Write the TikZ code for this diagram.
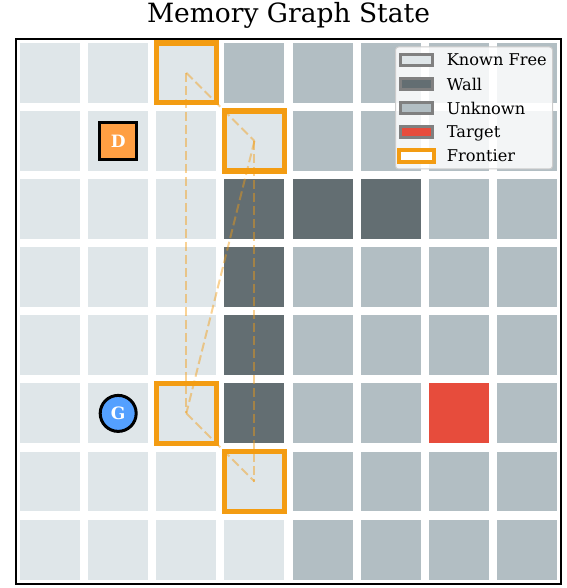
\documentclass[tikz,border=0pt]{standalone}
\usepackage{fontspec}
\setmainfont{DejaVu Serif}
\usetikzlibrary{positioning}
\definecolor{Free}{HTML}{DFE6E9}
\definecolor{Unknown}{HTML}{B2BEC3}
\definecolor{Wall}{HTML}{636E72}
\definecolor{Target}{HTML}{E74C3C}
\definecolor{Frontier}{HTML}{F39C12}
\definecolor{Drone}{HTML}{FF9F43}
\definecolor{Goal}{HTML}{54A0FF}
\definecolor{Edge}{HTML}{808080}
\begin{document}
\begin{tikzpicture}[x=68.125pt,y=-68.125pt,
    cell/.style={minimum size=59.9pt,inner sep=0pt,outer sep=0pt},
    frontier/.style={draw=Frontier,line width=5.5pt},
    link/.style={Frontier,opacity=0.45,line width=2pt,dash pattern=on 9pt off 4pt},
    marker/.style={draw=black,line width=3pt,text=white,inner sep=0pt,
      font=\fontsize{17}{17}\selectfont\bfseries},
    swatch/.style={draw=Edge,line width=2.7pt,minimum width=32.3pt,
      minimum height=10.6pt,inner sep=0pt},
    legendtext/.style={font=\fontsize{16.2}{18}\selectfont,inner sep=0pt,
      text depth=0pt,anchor=west}
  ]
    \useasboundingbox (-0.2349,-0.5681) rectangle (8.0734,8.0631);
    \node[anchor=base,font=\fontsize{26.5}{30}\selectfont] (title) at (4,-0.238)
      {Memory Graph State};
    \foreach \row/\cells in {
        0/{Free,Free,Free,Unknown,Unknown,Unknown,Unknown,Unknown},
        1/{Free,Free,Free,Free,Unknown,Unknown,Unknown,Unknown},
        2/{Free,Free,Free,Wall,Wall,Wall,Unknown,Unknown},
        3/{Free,Free,Free,Wall,Unknown,Unknown,Unknown,Unknown},
        4/{Free,Free,Free,Wall,Unknown,Unknown,Unknown,Unknown},
        5/{Free,Free,Free,Wall,Unknown,Unknown,Target,Unknown},
        6/{Free,Free,Free,Free,Unknown,Unknown,Unknown,Unknown},
        7/{Free,Free,Free,Free,Unknown,Unknown,Unknown,Unknown}}
      \foreach \kind [count=\col from 0] in \cells
        \node[cell,fill=\kind] (cell-\row-\col) at (\col+0.5,\row+0.5) {};
    \draw[line width=2pt] (0,0) rectangle (8,8);
    \draw[link] (cell-0-2.center) -- (cell-1-3.center);
    \draw[link] (cell-0-2.center) -- (cell-5-2.center);
    \draw[link] (cell-1-3.center) -- (cell-5-2.center);
    \draw[link] (cell-1-3.center) -- (cell-6-3.center);
    \draw[link] (cell-5-2.center) -- (cell-6-3.center);
    \foreach \f in {0-2,1-3,5-2,6-3}
      \draw[frontier] (cell-\f.north west) rectangle (cell-\f.south east);
    \node[marker,fill=Drone,minimum size=37pt] (drone) at (cell-1-1) {D};
    \node[marker,fill=Goal,circle,minimum size=36pt] (goal) at (cell-5-1) {G};
    \node[draw=black!20,fill=white,fill opacity=0.85,rounded corners=3pt,
      line width=1pt,minimum width=157pt,minimum height=122pt] (legend) at (6.723,1.017) {};
    \foreach \kind [count=\i] in {Free,Wall,Unknown,Target}
      \node[swatch,fill=\kind] (sw\i) at (5.879,{-0.0398+0.3523*\i}) {};
    \node[swatch,draw=Frontier,fill=white,line width=4pt,minimum width=35pt,
      minimum height=11.7pt] (sw5) at (5.879,1.722) {};
    \foreach \txt [count=\i] in {Known Free,Wall,Unknown,Target,Frontier}
      \node[legendtext] (lab\i) at (6.322,{-0.0398+0.3523*\i}) {\txt};
\end{tikzpicture}
\end{document}
